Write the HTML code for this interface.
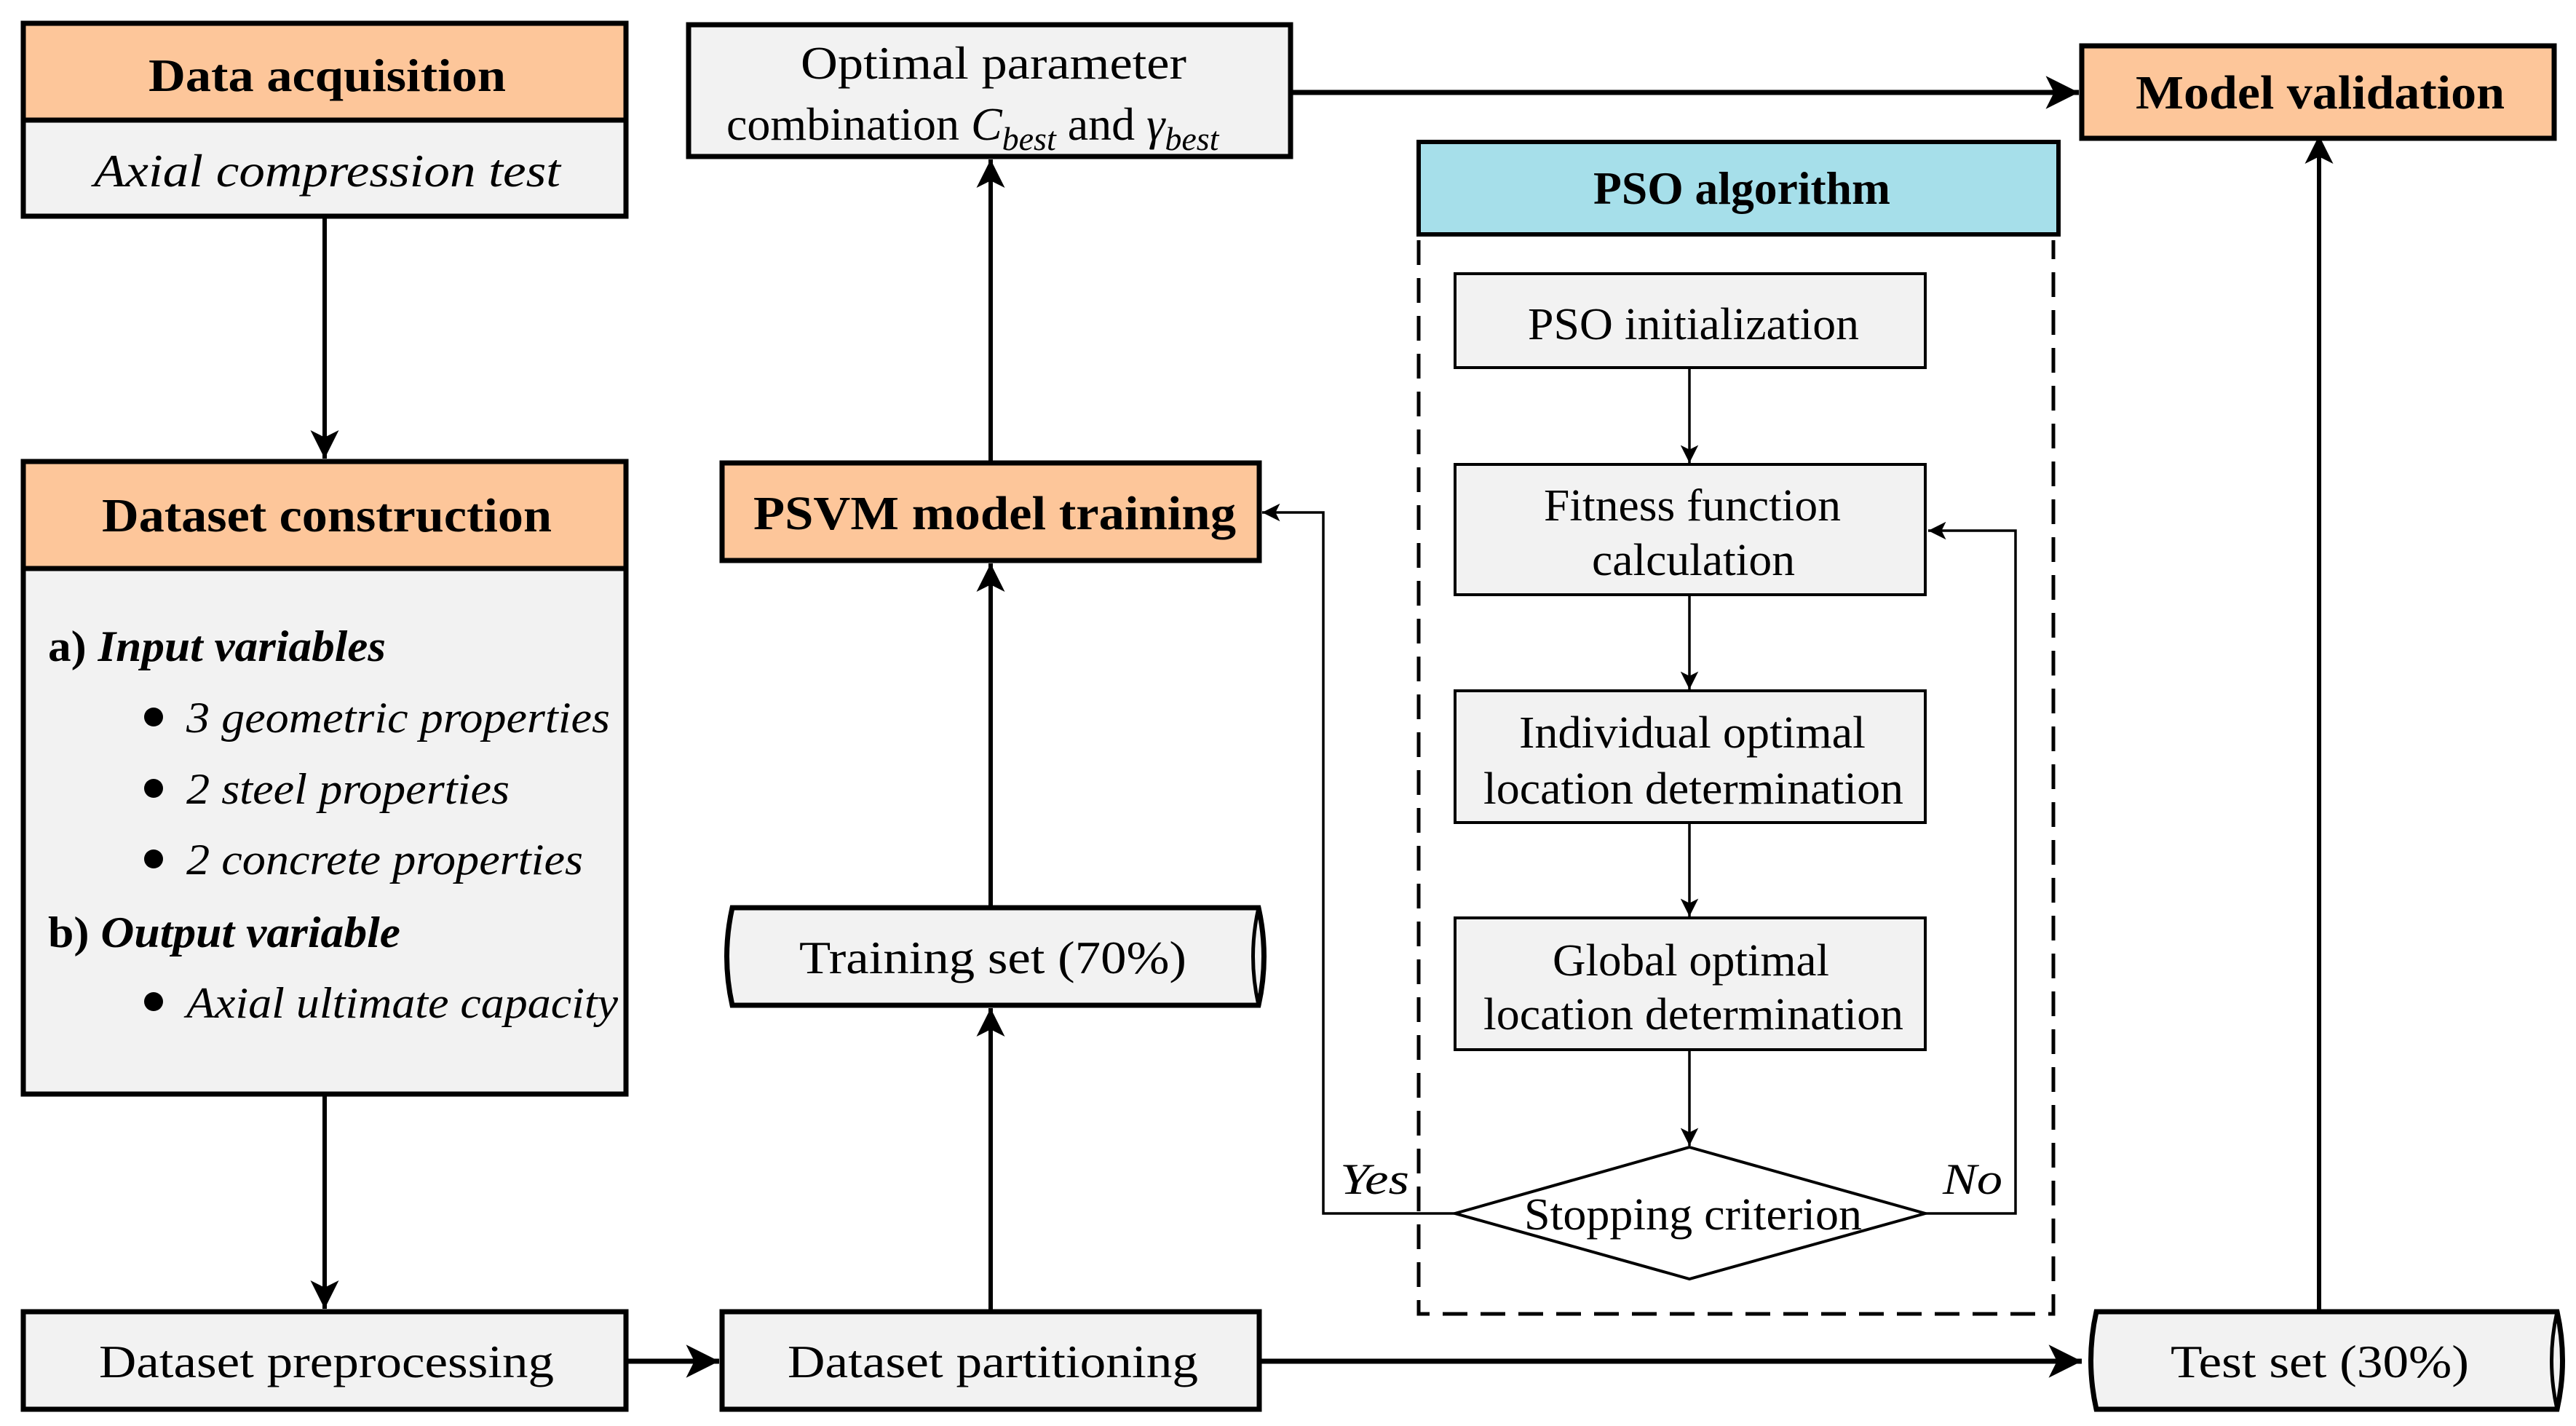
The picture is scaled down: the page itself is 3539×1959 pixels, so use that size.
<!DOCTYPE html>
<html><head><meta charset="utf-8"><style>
html,body{margin:0;padding:0;background:#fff;}
svg{display:block;}
text{font-family:"Liberation Serif",serif;fill:#000;}
</style></head><body>
<svg width="3539" height="1959" viewBox="0 0 3539 1959" xmlns="http://www.w3.org/2000/svg">
<defs>
<marker id="a" viewBox="0 0 10 10" refX="10" refY="5" markerWidth="8" markerHeight="6.5" markerUnits="strokeWidth" orient="auto"><path d="M0,0 L10,5 L0,10 L2.5,5 Z" fill="#000"/></marker>
<marker id="b" viewBox="0 0 10 10" refX="10" refY="5" markerWidth="10" markerHeight="7" markerUnits="strokeWidth" orient="auto"><path d="M0,0 L10,5 L0,10 L2.5,5 Z" fill="#000"/></marker>
</defs>

<!-- Data acquisition -->
<rect x="32" y="32" width="828" height="133" fill="#fdc69a" stroke="#000" stroke-width="7"/>
<rect x="32" y="165" width="828" height="132" fill="#f2f2f2" stroke="#000" stroke-width="7"/>
<text x="204" y="125" font-size="64" font-weight="bold" textLength="491" lengthAdjust="spacingAndGlyphs">Data acquisition</text>
<text x="129" y="256" font-size="64" font-style="italic" textLength="641" lengthAdjust="spacingAndGlyphs">Axial compression test</text>

<line x1="446" y1="297" x2="446" y2="630" stroke="#000" stroke-width="6" marker-end="url(#a)"/>

<!-- Dataset construction -->
<rect x="32" y="634" width="828" height="147" fill="#fdc69a" stroke="#000" stroke-width="7"/>
<rect x="32" y="781" width="828" height="722" fill="#f2f2f2" stroke="#000" stroke-width="7"/>
<text x="140" y="730" font-size="66" font-weight="bold" textLength="618" lengthAdjust="spacingAndGlyphs">Dataset construction</text>
<text x="66" y="908" font-size="60" font-weight="bold" textLength="464" lengthAdjust="spacingAndGlyphs">a) <tspan font-style="italic">Input variables</tspan></text>
<circle cx="211" cy="985" r="13"/><text x="256" y="1006" font-size="60" font-style="italic" textLength="582" lengthAdjust="spacingAndGlyphs">3 geometric properties</text>
<circle cx="211" cy="1083" r="13"/><text x="256" y="1104" font-size="60" font-style="italic" textLength="444" lengthAdjust="spacingAndGlyphs">2 steel properties</text>
<circle cx="211" cy="1180" r="13"/><text x="256" y="1201" font-size="60" font-style="italic" textLength="545" lengthAdjust="spacingAndGlyphs">2 concrete properties</text>
<text x="66" y="1301" font-size="60" font-weight="bold" textLength="484" lengthAdjust="spacingAndGlyphs">b) <tspan font-style="italic">Output variable</tspan></text>
<circle cx="211" cy="1376" r="13"/><text x="256" y="1398" font-size="60" font-style="italic" textLength="593" lengthAdjust="spacingAndGlyphs">Axial ultimate capacity</text>

<line x1="446" y1="1503" x2="446" y2="1798" stroke="#000" stroke-width="6" marker-end="url(#a)"/>

<!-- Dataset preprocessing -->
<rect x="32" y="1802" width="828" height="134" fill="#f2f2f2" stroke="#000" stroke-width="7"/>
<text x="136" y="1892" font-size="64" textLength="625" lengthAdjust="spacingAndGlyphs">Dataset preprocessing</text>
<line x1="860" y1="1870" x2="988" y2="1870" stroke="#000" stroke-width="7" marker-end="url(#a)"/>

<!-- Dataset partitioning -->
<rect x="992" y="1802" width="738" height="134" fill="#f2f2f2" stroke="#000" stroke-width="7"/>
<text x="1082" y="1892" font-size="64" textLength="564" lengthAdjust="spacingAndGlyphs">Dataset partitioning</text>
<line x1="1730" y1="1870" x2="2860" y2="1870" stroke="#000" stroke-width="7" marker-end="url(#a)"/>
<line x1="1361" y1="1802" x2="1361" y2="1385" stroke="#000" stroke-width="6" marker-end="url(#a)"/>

<!-- Test set cylinder -->
<path d="M2880,1802 L3513,1802 Q3528,1869 3513,1936 L2880,1936 Q2865,1869 2880,1802 Z" fill="#f2f2f2" stroke="#000" stroke-width="7"/>
<path d="M3513,1802 Q3498,1869 3513,1936" fill="none" stroke="#000" stroke-width="5"/>
<text x="2982" y="1892" font-size="64" textLength="410" lengthAdjust="spacingAndGlyphs">Test set (30%)</text>
<line x1="3186" y1="1802" x2="3186" y2="186" stroke="#000" stroke-width="6" marker-end="url(#a)"/>

<!-- Training set cylinder -->
<path d="M1006,1247 L1729,1247 Q1744,1314 1729,1381 L1006,1381 Q991,1314 1006,1247 Z" fill="#f2f2f2" stroke="#000" stroke-width="7"/>
<path d="M1729,1247 Q1714,1314 1729,1381" fill="none" stroke="#000" stroke-width="5"/>
<text x="1098" y="1337" font-size="64" textLength="532" lengthAdjust="spacingAndGlyphs">Training set (70%)</text>
<line x1="1361" y1="1247" x2="1361" y2="774" stroke="#000" stroke-width="6" marker-end="url(#a)"/>

<!-- PSVM -->
<rect x="992" y="636" width="738" height="134" fill="#fdc69a" stroke="#000" stroke-width="7"/>
<text x="1035" y="727" font-size="66" font-weight="bold" textLength="663" lengthAdjust="spacingAndGlyphs">PSVM model training</text>
<line x1="1361" y1="636" x2="1361" y2="219" stroke="#000" stroke-width="6" marker-end="url(#a)"/>

<!-- Optimal -->
<rect x="946" y="34" width="827" height="181" fill="#f2f2f2" stroke="#000" stroke-width="7"/>
<text x="1100" y="108" font-size="64" textLength="530" lengthAdjust="spacingAndGlyphs">Optimal parameter</text>
<text x="998" y="192" font-size="64">combination <tspan font-style="italic">C</tspan><tspan font-style="italic" font-size="46" dy="14">best</tspan><tspan dy="-14"> and </tspan><tspan font-style="italic">γ</tspan><tspan font-style="italic" font-size="46" dy="14">best</tspan></text>
<line x1="1773" y1="127" x2="2856" y2="127" stroke="#000" stroke-width="7" marker-end="url(#a)"/>

<!-- Model validation -->
<rect x="2860" y="63" width="649" height="127" fill="#fdc69a" stroke="#000" stroke-width="7"/>
<text x="2934" y="149" font-size="66" font-weight="bold" textLength="507" lengthAdjust="spacingAndGlyphs">Model validation</text>

<!-- PSO algorithm -->
<rect x="1949" y="195" width="879" height="127" fill="#a6dfea" stroke="#000" stroke-width="6"/>
<text x="2189" y="280" font-size="64" font-weight="bold" textLength="408" lengthAdjust="spacingAndGlyphs">PSO algorithm</text>
<path d="M1949,330 L1949,1805 L2821,1805 L2821,330" fill="none" stroke="#000" stroke-width="5" stroke-dasharray="34,18"/>

<rect x="1999" y="376" width="646" height="129" fill="#f2f2f2" stroke="#000" stroke-width="4"/>
<text x="2099" y="466" font-size="62" textLength="455" lengthAdjust="spacingAndGlyphs">PSO initialization</text>
<line x1="2321" y1="505" x2="2321" y2="636" stroke="#000" stroke-width="3.5" marker-end="url(#b)"/>

<rect x="1999" y="638" width="646" height="179" fill="#f2f2f2" stroke="#000" stroke-width="4"/>
<text x="2121" y="715" font-size="62" textLength="408" lengthAdjust="spacingAndGlyphs">Fitness function</text>
<text x="2187" y="790" font-size="62" textLength="279" lengthAdjust="spacingAndGlyphs">calculation</text>
<line x1="2321" y1="817" x2="2321" y2="947" stroke="#000" stroke-width="3.5" marker-end="url(#b)"/>

<rect x="1999" y="949" width="646" height="181" fill="#f2f2f2" stroke="#000" stroke-width="4"/>
<text x="2087" y="1027" font-size="62" textLength="476" lengthAdjust="spacingAndGlyphs">Individual optimal</text>
<text x="2038" y="1104" font-size="62" textLength="577" lengthAdjust="spacingAndGlyphs">location determination</text>
<line x1="2321" y1="1130" x2="2321" y2="1259" stroke="#000" stroke-width="3.5" marker-end="url(#b)"/>

<rect x="1999" y="1261" width="646" height="181" fill="#f2f2f2" stroke="#000" stroke-width="4"/>
<text x="2133" y="1340" font-size="62" textLength="380" lengthAdjust="spacingAndGlyphs">Global optimal</text>
<text x="2038" y="1414" font-size="62" textLength="577" lengthAdjust="spacingAndGlyphs">location determination</text>
<line x1="2321" y1="1442" x2="2321" y2="1574" stroke="#000" stroke-width="3.5" marker-end="url(#b)"/>

<polygon points="2321,1576 2645,1667 2321,1757 1999,1667" fill="#fff" stroke="#000" stroke-width="4"/>
<text x="2094" y="1689" font-size="62" textLength="464" lengthAdjust="spacingAndGlyphs">Stopping criterion</text>

<polyline points="1999,1667 1818,1667 1818,704 1734,704" fill="none" stroke="#000" stroke-width="3.5" marker-end="url(#b)"/>
<polyline points="2645,1667 2769,1667 2769,729 2649,729" fill="none" stroke="#000" stroke-width="3.5" marker-end="url(#b)"/>
<text x="1841" y="1640" font-size="60" font-style="italic" textLength="95" lengthAdjust="spacingAndGlyphs">Yes</text>
<text x="2669" y="1640" font-size="60" font-style="italic" textLength="82" lengthAdjust="spacingAndGlyphs">No</text>
</svg>
</body></html>
